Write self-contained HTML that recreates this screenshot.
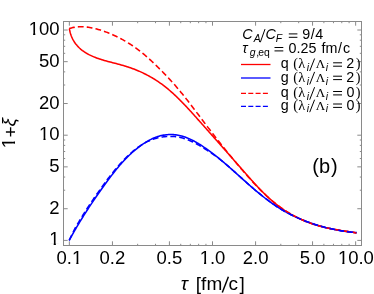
<!DOCTYPE html>
<html><head><meta charset="utf-8"><style>
html,body{margin:0;padding:0;background:#fff;}
body{width:374px;height:294px;overflow:hidden;}
svg{display:block;will-change:transform;font-family:"Liberation Sans",sans-serif;}
</style></head><body>
<svg width="374" height="294" viewBox="0 0 374 294">
<rect width="374" height="294" fill="#fff"/>
<g fill="none" stroke-linecap="butt" stroke-linejoin="round">
<path d="M69.37,28.58 L69.62,29.99 L69.91,31.36 L70.25,32.70 L70.63,33.99 L71.05,35.24 L71.51,36.45 L72.01,37.63 L72.55,38.77 L73.12,39.87 L73.73,40.93 L74.37,41.97 L75.05,42.96 L75.76,43.93 L76.50,44.86 L77.27,45.76 L78.07,46.62 L78.89,47.46 L79.75,48.27 L80.62,49.05 L81.53,49.80 L82.45,50.52 L83.40,51.21 L84.36,51.88 L85.35,52.53 L86.36,53.15 L87.38,53.74 L88.42,54.31 L89.47,54.86 L90.54,55.39 L91.62,55.90 L92.71,56.39 L93.82,56.86 L94.93,57.31 L96.06,57.74 L97.20,58.16 L98.34,58.57 L99.50,58.96 L100.66,59.34 L101.83,59.70 L103.01,60.06 L104.19,60.41 L105.38,60.75 L106.57,61.08 L107.77,61.41 L108.97,61.73 L110.18,62.05 L111.38,62.36 L112.59,62.67 L113.80,62.99 L115.01,63.30 L116.22,63.61 L117.43,63.93 L118.64,64.24 L119.84,64.57 L121.04,64.89 L122.24,65.23 L123.44,65.57 L124.63,65.92 L125.81,66.28 L126.99,66.65 L128.17,67.03 L129.33,67.42 L130.49,67.82 L131.65,68.23 L132.80,68.66 L133.94,69.09 L135.08,69.53 L136.21,69.98 L137.34,70.44 L138.46,70.92 L139.57,71.40 L140.68,71.89 L141.78,72.40 L142.88,72.91 L143.97,73.44 L145.05,73.97 L146.12,74.52 L147.19,75.08 L148.26,75.64 L149.32,76.22 L150.37,76.81 L151.41,77.41 L152.45,78.02 L153.48,78.64 L154.51,79.27 L155.53,79.91 L156.54,80.56 L157.54,81.22 L158.54,81.89 L159.54,82.58 L160.52,83.27 L161.50,83.98 L162.47,84.69 L163.44,85.42 L164.40,86.16 L165.35,86.90 L166.30,87.66 L167.24,88.42 L168.17,89.20 L169.10,89.98 L170.03,90.77 L170.94,91.57 L171.86,92.38 L172.77,93.19 L173.67,94.02 L174.57,94.85 L175.46,95.68 L176.35,96.52 L177.23,97.37 L178.11,98.23 L178.99,99.09 L179.86,99.96 L180.73,100.83 L181.59,101.71 L182.45,102.59 L183.31,103.47 L184.16,104.36 L185.02,105.26 L185.86,106.15 L186.71,107.05 L187.55,107.96 L188.39,108.86 L189.22,109.77 L190.06,110.68 L190.89,111.60 L191.72,112.51 L192.55,113.43 L193.38,114.34 L194.20,115.26 L195.02,116.18 L195.85,117.10 L196.67,118.02 L197.48,118.94 L198.30,119.86 L199.12,120.77 L199.94,121.69 L200.75,122.61 L201.57,123.52 L202.38,124.44 L203.20,125.35 L204.01,126.27 L204.82,127.18 L205.63,128.10 L206.44,129.01 L207.25,129.92 L208.06,130.83 L208.87,131.75 L209.68,132.66 L210.49,133.57 L211.29,134.48 L212.10,135.39 L212.91,136.30 L213.71,137.21 L214.52,138.12 L215.32,139.03 L216.13,139.94 L216.93,140.85 L217.74,141.76 L218.54,142.67 L219.34,143.58 L220.15,144.49 L220.95,145.40 L221.75,146.31 L222.56,147.22 L223.36,148.13 L224.16,149.04 L224.96,149.95 L225.76,150.86 L226.57,151.78 L227.37,152.69 L228.17,153.60 L228.97,154.51 L229.78,155.42 L230.58,156.33 L231.38,157.25 L232.18,158.16 L232.99,159.07 L233.79,159.98 L234.59,160.90 L235.40,161.81 L236.20,162.73 L237.00,163.64 L237.81,164.56 L238.61,165.48 L239.42,166.39 L240.22,167.31 L241.03,168.23 L241.83,169.15 L242.64,170.07 L243.45,170.99 L244.26,171.91 L245.06,172.83 L245.87,173.75 L246.68,174.67 L247.49,175.59 L248.31,176.52 L249.12,177.44 L249.94,178.35 L250.75,179.27 L251.57,180.19 L252.40,181.10 L253.22,182.02 L254.05,182.93 L254.88,183.83 L255.71,184.74 L256.54,185.64 L257.38,186.54 L258.22,187.43 L259.07,188.32 L259.92,189.21 L260.77,190.09 L261.63,190.96 L262.49,191.83 L263.35,192.70 L264.22,193.56 L265.10,194.42 L265.98,195.26 L266.86,196.11 L267.76,196.94 L268.65,197.77 L269.55,198.59 L270.46,199.40 L271.37,200.21 L272.29,201.01 L273.22,201.80 L274.15,202.58 L275.09,203.35 L276.04,204.11 L276.99,204.87 L277.95,205.61 L278.92,206.34 L279.89,207.07 L280.88,207.78 L281.87,208.48 L282.87,209.18 L283.87,209.86 L284.89,210.53 L285.91,211.19 L286.94,211.84 L287.97,212.47 L289.01,213.10 L290.06,213.72 L291.12,214.32 L292.18,214.92 L293.25,215.50 L294.33,216.07 L295.41,216.63 L296.50,217.18 L297.59,217.72 L298.69,218.25 L299.80,218.77 L300.91,219.28 L302.02,219.78 L303.14,220.26 L304.27,220.74 L305.40,221.20 L306.53,221.66 L307.67,222.10 L308.82,222.53 L309.97,222.95 L311.12,223.36 L312.27,223.76 L313.43,224.15 L314.60,224.53 L315.77,224.90 L316.94,225.25 L318.11,225.60 L319.29,225.93 L320.47,226.26 L321.65,226.57 L322.84,226.87 L324.02,227.17 L325.21,227.45 L326.41,227.73 L327.60,228.00 L328.80,228.26 L329.99,228.52 L331.19,228.76 L332.39,229.00 L333.60,229.23 L334.80,229.46 L336.00,229.68 L337.21,229.89 L338.42,230.10 L339.62,230.31 L340.83,230.51 L342.03,230.71 L343.24,230.90 L344.45,231.09 L345.65,231.27 L346.86,231.45 L348.07,231.63 L349.27,231.81 L350.47,231.99 L351.68,232.16 L352.88,232.34 L354.08,232.51 L355.28,232.68 L356.48,232.86" stroke="#ff0000" stroke-width="1.55"/>
<path d="M69.21,240.34 L69.81,239.25 L70.40,238.17 L71.00,237.08 L71.60,236.00 L72.20,234.93 L72.81,233.85 L73.41,232.78 L74.03,231.71 L74.64,230.64 L75.26,229.58 L75.88,228.51 L76.50,227.45 L77.12,226.39 L77.75,225.34 L78.38,224.28 L79.01,223.23 L79.65,222.18 L80.29,221.14 L80.93,220.09 L81.57,219.05 L82.22,218.00 L82.86,216.97 L83.51,215.93 L84.17,214.89 L84.82,213.86 L85.48,212.83 L86.14,211.80 L86.80,210.77 L87.47,209.74 L88.14,208.71 L88.81,207.69 L89.48,206.67 L90.15,205.65 L90.83,204.63 L91.51,203.61 L92.19,202.60 L92.88,201.58 L93.56,200.57 L94.25,199.56 L94.94,198.55 L95.63,197.54 L96.33,196.53 L97.03,195.52 L97.73,194.52 L98.43,193.51 L99.13,192.51 L99.84,191.51 L100.55,190.50 L101.26,189.50 L101.97,188.50 L102.68,187.51 L103.40,186.51 L104.12,185.51 L104.84,184.52 L105.56,183.52 L106.29,182.53 L107.01,181.54 L107.74,180.54 L108.48,179.55 L109.21,178.57 L109.95,177.58 L110.69,176.60 L111.44,175.62 L112.19,174.64 L112.94,173.67 L113.70,172.70 L114.46,171.74 L115.23,170.77 L116.00,169.82 L116.78,168.86 L117.56,167.92 L118.35,166.97 L119.14,166.04 L119.94,165.10 L120.75,164.18 L121.56,163.26 L122.38,162.35 L123.21,161.44 L124.04,160.54 L124.88,159.65 L125.73,158.76 L126.58,157.89 L127.44,157.02 L128.31,156.16 L129.19,155.30 L130.08,154.46 L130.98,153.63 L131.88,152.80 L132.80,151.98 L133.72,151.18 L134.65,150.38 L135.60,149.60 L136.55,148.82 L137.51,148.06 L138.48,147.31 L139.47,146.56 L140.46,145.83 L141.47,145.12 L142.48,144.41 L143.51,143.72 L144.55,143.04 L145.60,142.37 L146.66,141.72 L147.73,141.10 L148.82,140.49 L149.91,139.90 L151.01,139.34 L152.12,138.80 L153.25,138.29 L154.38,137.81 L155.52,137.35 L156.67,136.93 L157.83,136.54 L159.00,136.19 L160.17,135.87 L161.36,135.58 L162.54,135.33 L163.74,135.11 L164.94,134.93 L166.14,134.78 L167.34,134.67 L168.54,134.59 L169.75,134.55 L170.95,134.54 L172.15,134.57 L173.35,134.63 L174.55,134.73 L175.74,134.86 L176.92,135.02 L178.10,135.22 L179.27,135.46 L180.44,135.72 L181.59,136.02 L182.75,136.35 L183.89,136.70 L185.03,137.09 L186.17,137.50 L187.29,137.93 L188.41,138.40 L189.53,138.88 L190.64,139.39 L191.74,139.91 L192.84,140.46 L193.93,141.03 L195.01,141.62 L196.09,142.22 L197.16,142.84 L198.23,143.47 L199.29,144.12 L200.35,144.78 L201.39,145.45 L202.44,146.13 L203.47,146.82 L204.50,147.52 L205.53,148.22 L206.55,148.94 L207.56,149.66 L208.57,150.38 L209.57,151.11 L210.57,151.85 L211.56,152.59 L212.55,153.34 L213.54,154.09 L214.52,154.85 L215.49,155.61 L216.46,156.38 L217.43,157.15 L218.39,157.93 L219.35,158.71 L220.30,159.49 L221.25,160.28 L222.20,161.07 L223.15,161.87 L224.09,162.67 L225.03,163.47 L225.97,164.27 L226.90,165.08 L227.83,165.89 L228.76,166.70 L229.69,167.51 L230.61,168.33 L231.54,169.14 L232.46,169.96 L233.38,170.78 L234.30,171.60 L235.22,172.42 L236.14,173.24 L237.05,174.07 L237.97,174.89 L238.88,175.71 L239.80,176.53 L240.71,177.35 L241.62,178.18 L242.54,179.00 L243.45,179.82 L244.37,180.64 L245.28,181.45 L246.20,182.27 L247.11,183.09 L248.03,183.90 L248.95,184.71 L249.87,185.52 L250.79,186.33 L251.71,187.13 L252.64,187.93 L253.57,188.73 L254.49,189.52 L255.42,190.31 L256.36,191.10 L257.29,191.89 L258.23,192.67 L259.17,193.44 L260.11,194.22 L261.06,194.98 L262.01,195.75 L262.96,196.50 L263.92,197.26 L264.88,198.01 L265.85,198.75 L266.81,199.48 L267.79,200.22 L268.76,200.94 L269.74,201.66 L270.73,202.37 L271.72,203.08 L272.72,203.78 L273.72,204.47 L274.72,205.15 L275.73,205.83 L276.75,206.50 L277.77,207.16 L278.80,207.82 L279.83,208.46 L280.87,209.10 L281.92,209.73 L282.97,210.35 L284.03,210.96 L285.09,211.57 L286.17,212.16 L287.24,212.75 L288.32,213.33 L289.41,213.90 L290.50,214.46 L291.60,215.01 L292.70,215.55 L293.81,216.09 L294.92,216.62 L296.04,217.14 L297.16,217.65 L298.29,218.15 L299.42,218.64 L300.55,219.13 L301.69,219.61 L302.84,220.07 L303.98,220.53 L305.13,220.99 L306.29,221.43 L307.45,221.86 L308.61,222.29 L309.77,222.71 L310.94,223.12 L312.11,223.52 L313.28,223.92 L314.46,224.30 L315.64,224.68 L316.82,225.05 L318.00,225.41 L319.19,225.76 L320.38,226.10 L321.57,226.44 L322.76,226.77 L323.96,227.09 L325.15,227.40 L326.35,227.70 L327.55,228.00 L328.75,228.28 L329.95,228.56 L331.15,228.83 L332.35,229.09 L333.55,229.35 L334.76,229.59 L335.96,229.83 L337.17,230.06 L338.37,230.28 L339.58,230.49 L340.79,230.70 L341.99,230.90 L343.20,231.09 L344.40,231.27 L345.61,231.44 L346.81,231.60 L348.01,231.76 L349.22,231.91 L350.42,232.05 L351.62,232.18 L352.82,232.31 L354.02,232.42 L355.21,232.53 L356.41,232.63" stroke="#0000ff" stroke-width="1.55"/>
<path d="M69.13,28.55 L70.33,28.19 L71.52,27.88 L72.72,27.60 L73.92,27.37 L75.13,27.17 L76.33,27.01 L77.54,26.89 L78.75,26.81 L79.96,26.75 L81.17,26.74 L82.38,26.75 L83.60,26.80 L84.81,26.88 L86.02,26.98 L87.23,27.12 L88.44,27.28 L89.65,27.46 L90.86,27.67 L92.06,27.91 L93.27,28.16 L94.47,28.44 L95.67,28.74 L96.86,29.06 L98.06,29.39 L99.25,29.74 L100.43,30.10 L101.62,30.48 L102.79,30.88 L103.97,31.28 L105.14,31.70 L106.30,32.13 L107.46,32.57 L108.61,33.02 L109.76,33.49 L110.91,33.97 L112.05,34.45 L113.18,34.95 L114.31,35.46 L115.44,35.98 L116.55,36.52 L117.67,37.06 L118.77,37.61 L119.88,38.18 L120.97,38.76 L122.06,39.34 L123.14,39.94 L124.22,40.55 L125.29,41.16 L126.36,41.79 L127.42,42.43 L128.47,43.08 L129.52,43.73 L130.56,44.40 L131.59,45.08 L132.61,45.76 L133.63,46.46 L134.64,47.17 L135.65,47.88 L136.65,48.60 L137.64,49.34 L138.62,50.08 L139.60,50.83 L140.57,51.59 L141.53,52.35 L142.48,53.13 L143.43,53.91 L144.38,54.70 L145.31,55.50 L146.25,56.30 L147.17,57.11 L148.09,57.92 L149.01,58.75 L149.92,59.57 L150.83,60.40 L151.73,61.24 L152.63,62.08 L153.52,62.93 L154.42,63.78 L155.30,64.64 L156.19,65.49 L157.07,66.36 L157.95,67.22 L158.82,68.09 L159.69,68.96 L160.57,69.83 L161.43,70.70 L162.30,71.58 L163.16,72.46 L164.02,73.34 L164.88,74.23 L165.73,75.11 L166.59,76.01 L167.43,76.90 L168.28,77.80 L169.12,78.70 L169.95,79.60 L170.79,80.51 L171.62,81.42 L172.44,82.34 L173.26,83.25 L174.08,84.18 L174.89,85.10 L175.70,86.03 L176.50,86.97 L177.30,87.91 L178.10,88.85 L178.89,89.79 L179.68,90.74 L180.47,91.69 L181.25,92.64 L182.03,93.60 L182.81,94.55 L183.58,95.51 L184.35,96.48 L185.12,97.44 L185.89,98.41 L186.65,99.38 L187.41,100.35 L188.17,101.33 L188.93,102.30 L189.68,103.28 L190.44,104.26 L191.19,105.24 L191.94,106.22 L192.69,107.20 L193.44,108.18 L194.18,109.16 L194.93,110.15 L195.67,111.13 L196.42,112.12 L197.16,113.11 L197.90,114.09 L198.65,115.08 L199.39,116.07 L200.13,117.05 L200.87,118.04 L201.62,119.02 L202.36,120.01 L203.10,120.99 L203.85,121.98 L204.59,122.96 L205.33,123.94 L206.08,124.92 L206.83,125.91 L207.57,126.89 L208.32,127.87 L209.07,128.84 L209.82,129.82 L210.57,130.80 L211.32,131.77 L212.08,132.75 L212.83,133.72 L213.58,134.70 L214.34,135.67 L215.09,136.64 L215.85,137.61 L216.61,138.58 L217.37,139.55 L218.13,140.52 L218.89,141.49 L219.65,142.46 L220.42,143.42 L221.18,144.39 L221.95,145.35 L222.71,146.31 L223.48,147.28 L224.25,148.24 L225.02,149.20 L225.79,150.16 L226.57,151.12 L227.34,152.08 L228.12,153.03 L228.90,153.99 L229.68,154.94 L230.46,155.90 L231.24,156.85 L232.02,157.80 L232.81,158.76 L233.59,159.71 L234.38,160.66 L235.17,161.61 L235.96,162.55 L236.75,163.50 L237.55,164.45 L238.35,165.39 L239.14,166.34 L239.94,167.28 L240.75,168.22 L241.55,169.16 L242.35,170.10 L243.16,171.04 L243.97,171.98 L244.78,172.92 L245.59,173.85 L246.41,174.79 L247.22,175.72 L248.04,176.65 L248.87,177.58 L249.69,178.51 L250.52,179.43 L251.35,180.35 L252.18,181.27 L253.02,182.19 L253.86,183.10 L254.70,184.01 L255.55,184.91 L256.40,185.81 L257.26,186.71 L258.11,187.60 L258.98,188.49 L259.84,189.37 L260.72,190.25 L261.59,191.12 L262.47,191.99 L263.36,192.85 L264.25,193.71 L265.14,194.56 L266.04,195.40 L266.95,196.24 L267.86,197.07 L268.77,197.89 L269.70,198.71 L270.62,199.52 L271.56,200.32 L272.50,201.11 L273.44,201.90 L274.39,202.68 L275.35,203.45 L276.32,204.21 L277.29,204.96 L278.27,205.71 L279.25,206.44 L280.24,207.17 L281.24,207.88 L282.25,208.59 L283.26,209.28 L284.28,209.97 L285.31,210.65 L286.35,211.31 L287.39,211.97 L288.43,212.61 L289.49,213.25 L290.55,213.87 L291.62,214.49 L292.69,215.09 L293.77,215.68 L294.86,216.27 L295.95,216.84 L297.05,217.40 L298.15,217.95 L299.26,218.49 L300.37,219.02 L301.49,219.53 L302.62,220.04 L303.75,220.53 L304.88,221.02 L306.02,221.49 L307.17,221.95 L308.32,222.39 L309.47,222.83 L310.63,223.25 L311.79,223.67 L312.96,224.07 L314.13,224.45 L315.31,224.83 L316.49,225.19 L317.67,225.55 L318.86,225.89 L320.05,226.21 L321.25,226.53 L322.44,226.83 L323.64,227.13 L324.85,227.41 L326.05,227.69 L327.26,227.96 L328.47,228.21 L329.69,228.46 L330.90,228.70 L332.12,228.94 L333.33,229.17 L334.55,229.39 L335.77,229.61 L336.99,229.82 L338.22,230.03 L339.44,230.23 L340.66,230.43 L341.88,230.63 L343.10,230.82 L344.32,231.01 L345.55,231.20 L346.77,231.39 L347.98,231.58 L349.20,231.76 L350.42,231.95 L351.63,232.14 L352.85,232.33 L354.06,232.52 L355.27,232.72 L356.48,232.91" stroke="#ff0000" stroke-width="1.55" stroke-dasharray="5.8 3.1"/>
<path d="M69.21,240.33 L69.81,239.08 L70.40,237.83 L71.00,236.59 L71.60,235.34 L72.20,234.10 L72.81,232.86 L73.41,231.62 L74.03,230.38 L74.64,229.14 L75.26,227.97 L75.88,226.90 L76.50,225.83 L77.12,224.77 L77.75,223.70 L78.38,222.64 L79.01,221.58 L79.65,220.52 L80.29,219.46 L80.93,218.41 L81.57,217.36 L82.22,216.31 L82.86,215.26 L83.51,214.21 L84.17,213.17 L84.82,212.13 L85.48,211.09 L86.14,210.05 L86.80,209.01 L87.47,207.97 L88.14,206.94 L88.81,205.91 L89.48,204.88 L90.15,203.85 L90.83,202.84 L91.51,201.83 L92.19,200.82 L92.88,199.82 L93.56,198.82 L94.25,197.81 L94.94,196.81 L95.63,195.81 L96.33,194.81 L97.03,193.82 L97.73,192.82 L98.43,191.82 L99.13,190.83 L99.84,189.84 L100.55,188.85 L101.26,187.85 L101.97,186.86 L102.68,185.88 L103.40,184.89 L104.12,183.90 L104.84,182.91 L105.56,181.94 L106.29,180.98 L107.01,180.02 L107.74,179.05 L108.48,178.09 L109.21,177.14 L109.95,176.18 L110.69,175.23 L111.44,174.28 L112.19,173.33 L112.94,172.39 L113.70,171.45 L114.46,170.51 L115.23,169.58 L116.00,168.66 L116.78,167.73 L117.56,166.82 L118.35,165.91 L119.14,165.00 L119.94,164.10 L120.75,163.21 L121.56,162.32 L122.38,161.44 L123.21,160.57 L124.04,159.70 L124.88,158.84 L125.73,157.98 L126.58,157.13 L127.44,156.29 L128.31,155.46 L129.19,154.63 L130.08,153.81 L130.98,153.01 L131.88,152.21 L132.80,151.42 L133.72,150.64 L134.65,149.87 L135.60,149.13 L136.55,148.40 L137.51,147.68 L138.48,146.98 L139.47,146.29 L140.46,145.61 L141.47,144.94 L142.48,144.28 L143.51,143.64 L144.55,143.01 L145.60,142.44 L146.66,141.91 L147.73,141.41 L148.82,140.92 L149.91,140.46 L151.01,140.03 L152.12,139.61 L153.25,139.20 L154.38,138.82 L155.52,138.46 L156.67,138.14 L157.83,137.85 L159.00,137.60 L160.17,137.37 L161.36,137.13 L162.54,136.92 L163.74,136.75 L164.94,136.61 L166.14,136.51 L167.34,136.44 L168.54,136.41 L169.75,136.41 L170.95,136.44 L172.15,136.46 L173.35,136.50 L174.55,136.59 L175.74,136.71 L176.92,136.86 L178.10,137.04 L179.27,137.27 L180.44,137.51 L181.59,137.79 L182.75,138.09 L183.89,138.43 L185.03,138.79 L186.17,139.17 L187.29,139.59 L188.41,140.03 L189.53,140.49 L190.64,140.97 L191.74,141.46 L192.84,141.98 L193.93,142.51 L195.01,143.07 L196.09,143.64 L197.16,144.22 L198.23,144.82 L199.29,145.44 L200.35,146.06 L201.39,146.68 L202.44,147.31 L203.47,147.95 L204.50,148.59 L205.53,149.25 L206.55,149.91 L207.56,150.58 L208.57,151.25 L209.57,151.93 L210.57,152.60 L211.56,153.26 L212.55,153.93 L213.54,154.60 L214.52,155.27 L215.49,155.96 L216.46,156.66 L217.43,157.38 L218.39,158.11 L219.35,158.84 L220.30,159.58 L221.25,160.32 L222.20,161.07 L223.15,161.87 L224.09,162.67 L225.03,163.47 L225.97,164.27 L226.90,165.08 L227.83,165.89 L228.76,166.70 L229.69,167.51 L230.61,168.33 L231.54,169.14 L232.46,169.96 L233.38,170.78 L234.30,171.60 L235.22,172.42 L236.14,173.24 L237.05,174.07 L237.97,174.89 L238.88,175.71 L239.80,176.53 L240.71,177.35 L241.62,178.18 L242.54,179.00 L243.45,179.82 L244.37,180.64 L245.28,181.45 L246.20,182.27 L247.11,183.09 L248.03,183.90 L248.95,184.71 L249.87,185.52 L250.79,186.33 L251.71,187.13 L252.64,187.93 L253.57,188.73 L254.49,189.52 L255.42,190.31 L256.36,191.10 L257.29,191.89 L258.23,192.67 L259.17,193.44 L260.11,194.22 L261.06,194.98 L262.01,195.75 L262.96,196.50 L263.92,197.26 L264.88,198.01 L265.85,198.75 L266.81,199.48 L267.79,200.22 L268.76,200.94 L269.74,201.66 L270.73,202.37 L271.72,203.08 L272.72,203.78 L273.72,204.47 L274.72,205.15 L275.73,205.83 L276.75,206.50 L277.77,207.16 L278.80,207.82 L279.83,208.46 L280.87,209.10 L281.92,209.73 L282.97,210.35 L284.03,210.96 L285.09,211.57 L286.17,212.16 L287.24,212.75 L288.32,213.33 L289.41,213.90 L290.50,214.46 L291.60,215.01 L292.70,215.55 L293.81,216.09 L294.92,216.62 L296.04,217.14 L297.16,217.65 L298.29,218.15 L299.42,218.64 L300.55,219.13 L301.69,219.61 L302.84,220.07 L303.98,220.53 L305.13,220.99 L306.29,221.43 L307.45,221.86 L308.61,222.29 L309.77,222.71 L310.94,223.12 L312.11,223.52 L313.28,223.92 L314.46,224.30 L315.64,224.68 L316.82,225.05 L318.00,225.41 L319.19,225.76 L320.38,226.10 L321.57,226.44 L322.76,226.77 L323.96,227.09 L325.15,227.40 L326.35,227.70 L327.55,228.00 L328.75,228.28 L329.95,228.56 L331.15,228.83 L332.35,229.09 L333.55,229.35 L334.76,229.59 L335.96,229.83 L337.17,230.06 L338.37,230.28 L339.58,230.49 L340.79,230.70 L341.99,230.90 L343.20,231.09 L344.40,231.27 L345.61,231.44 L346.81,231.60 L348.01,231.76 L349.22,231.91 L350.42,232.05 L351.62,232.18 L352.82,232.31 L354.02,232.42 L355.21,232.53 L356.41,232.63" stroke="#0000ff" stroke-width="1.55" stroke-dasharray="5.8 3.1"/>
</g>
<rect x="63.5" y="21.5" width="298.0" height="224.0" fill="none" stroke="#8a8a8a" stroke-width="1"/>
<line x1="69.35" y1="245.50" x2="69.35" y2="241.30" stroke="#8a8a8a" stroke-width="1"/>
<line x1="69.35" y1="21.50" x2="69.35" y2="25.70" stroke="#8a8a8a" stroke-width="1"/>
<line x1="112.44" y1="245.50" x2="112.44" y2="241.30" stroke="#8a8a8a" stroke-width="1"/>
<line x1="112.44" y1="21.50" x2="112.44" y2="25.70" stroke="#8a8a8a" stroke-width="1"/>
<line x1="137.65" y1="245.50" x2="137.65" y2="243.80" stroke="#8a8a8a" stroke-width="1"/>
<line x1="137.65" y1="21.50" x2="137.65" y2="23.20" stroke="#8a8a8a" stroke-width="1"/>
<line x1="155.53" y1="245.50" x2="155.53" y2="243.80" stroke="#8a8a8a" stroke-width="1"/>
<line x1="155.53" y1="21.50" x2="155.53" y2="23.20" stroke="#8a8a8a" stroke-width="1"/>
<line x1="169.41" y1="245.50" x2="169.41" y2="241.30" stroke="#8a8a8a" stroke-width="1"/>
<line x1="169.41" y1="21.50" x2="169.41" y2="25.70" stroke="#8a8a8a" stroke-width="1"/>
<line x1="180.74" y1="245.50" x2="180.74" y2="243.80" stroke="#8a8a8a" stroke-width="1"/>
<line x1="180.74" y1="21.50" x2="180.74" y2="23.20" stroke="#8a8a8a" stroke-width="1"/>
<line x1="190.33" y1="245.50" x2="190.33" y2="243.80" stroke="#8a8a8a" stroke-width="1"/>
<line x1="190.33" y1="21.50" x2="190.33" y2="23.20" stroke="#8a8a8a" stroke-width="1"/>
<line x1="198.63" y1="245.50" x2="198.63" y2="243.80" stroke="#8a8a8a" stroke-width="1"/>
<line x1="198.63" y1="21.50" x2="198.63" y2="23.20" stroke="#8a8a8a" stroke-width="1"/>
<line x1="205.95" y1="245.50" x2="205.95" y2="243.80" stroke="#8a8a8a" stroke-width="1"/>
<line x1="205.95" y1="21.50" x2="205.95" y2="23.20" stroke="#8a8a8a" stroke-width="1"/>
<line x1="212.50" y1="245.50" x2="212.50" y2="241.30" stroke="#8a8a8a" stroke-width="1"/>
<line x1="212.50" y1="21.50" x2="212.50" y2="25.70" stroke="#8a8a8a" stroke-width="1"/>
<line x1="255.59" y1="245.50" x2="255.59" y2="241.30" stroke="#8a8a8a" stroke-width="1"/>
<line x1="255.59" y1="21.50" x2="255.59" y2="25.70" stroke="#8a8a8a" stroke-width="1"/>
<line x1="280.80" y1="245.50" x2="280.80" y2="243.80" stroke="#8a8a8a" stroke-width="1"/>
<line x1="280.80" y1="21.50" x2="280.80" y2="23.20" stroke="#8a8a8a" stroke-width="1"/>
<line x1="298.68" y1="245.50" x2="298.68" y2="243.80" stroke="#8a8a8a" stroke-width="1"/>
<line x1="298.68" y1="21.50" x2="298.68" y2="23.20" stroke="#8a8a8a" stroke-width="1"/>
<line x1="312.56" y1="245.50" x2="312.56" y2="241.30" stroke="#8a8a8a" stroke-width="1"/>
<line x1="312.56" y1="21.50" x2="312.56" y2="25.70" stroke="#8a8a8a" stroke-width="1"/>
<line x1="323.89" y1="245.50" x2="323.89" y2="243.80" stroke="#8a8a8a" stroke-width="1"/>
<line x1="323.89" y1="21.50" x2="323.89" y2="23.20" stroke="#8a8a8a" stroke-width="1"/>
<line x1="333.48" y1="245.50" x2="333.48" y2="243.80" stroke="#8a8a8a" stroke-width="1"/>
<line x1="333.48" y1="21.50" x2="333.48" y2="23.20" stroke="#8a8a8a" stroke-width="1"/>
<line x1="341.78" y1="245.50" x2="341.78" y2="243.80" stroke="#8a8a8a" stroke-width="1"/>
<line x1="341.78" y1="21.50" x2="341.78" y2="23.20" stroke="#8a8a8a" stroke-width="1"/>
<line x1="349.10" y1="245.50" x2="349.10" y2="243.80" stroke="#8a8a8a" stroke-width="1"/>
<line x1="349.10" y1="21.50" x2="349.10" y2="23.20" stroke="#8a8a8a" stroke-width="1"/>
<line x1="355.65" y1="245.50" x2="355.65" y2="241.30" stroke="#8a8a8a" stroke-width="1"/>
<line x1="355.65" y1="21.50" x2="355.65" y2="25.70" stroke="#8a8a8a" stroke-width="1"/>
<line x1="63.50" y1="240.40" x2="67.70" y2="240.40" stroke="#8a8a8a" stroke-width="1"/>
<line x1="361.50" y1="240.40" x2="357.30" y2="240.40" stroke="#8a8a8a" stroke-width="1"/>
<line x1="63.50" y1="208.73" x2="67.70" y2="208.73" stroke="#8a8a8a" stroke-width="1"/>
<line x1="361.50" y1="208.73" x2="357.30" y2="208.73" stroke="#8a8a8a" stroke-width="1"/>
<line x1="63.50" y1="190.21" x2="65.20" y2="190.21" stroke="#8a8a8a" stroke-width="1"/>
<line x1="361.50" y1="190.21" x2="359.80" y2="190.21" stroke="#8a8a8a" stroke-width="1"/>
<line x1="63.50" y1="177.06" x2="65.20" y2="177.06" stroke="#8a8a8a" stroke-width="1"/>
<line x1="361.50" y1="177.06" x2="359.80" y2="177.06" stroke="#8a8a8a" stroke-width="1"/>
<line x1="63.50" y1="166.87" x2="67.70" y2="166.87" stroke="#8a8a8a" stroke-width="1"/>
<line x1="361.50" y1="166.87" x2="357.30" y2="166.87" stroke="#8a8a8a" stroke-width="1"/>
<line x1="63.50" y1="158.54" x2="65.20" y2="158.54" stroke="#8a8a8a" stroke-width="1"/>
<line x1="361.50" y1="158.54" x2="359.80" y2="158.54" stroke="#8a8a8a" stroke-width="1"/>
<line x1="63.50" y1="151.50" x2="65.20" y2="151.50" stroke="#8a8a8a" stroke-width="1"/>
<line x1="361.50" y1="151.50" x2="359.80" y2="151.50" stroke="#8a8a8a" stroke-width="1"/>
<line x1="63.50" y1="145.39" x2="65.20" y2="145.39" stroke="#8a8a8a" stroke-width="1"/>
<line x1="361.50" y1="145.39" x2="359.80" y2="145.39" stroke="#8a8a8a" stroke-width="1"/>
<line x1="63.50" y1="140.01" x2="65.20" y2="140.01" stroke="#8a8a8a" stroke-width="1"/>
<line x1="361.50" y1="140.01" x2="359.80" y2="140.01" stroke="#8a8a8a" stroke-width="1"/>
<line x1="63.50" y1="135.20" x2="67.70" y2="135.20" stroke="#8a8a8a" stroke-width="1"/>
<line x1="361.50" y1="135.20" x2="357.30" y2="135.20" stroke="#8a8a8a" stroke-width="1"/>
<line x1="63.50" y1="103.53" x2="67.70" y2="103.53" stroke="#8a8a8a" stroke-width="1"/>
<line x1="361.50" y1="103.53" x2="357.30" y2="103.53" stroke="#8a8a8a" stroke-width="1"/>
<line x1="63.50" y1="85.01" x2="65.20" y2="85.01" stroke="#8a8a8a" stroke-width="1"/>
<line x1="361.50" y1="85.01" x2="359.80" y2="85.01" stroke="#8a8a8a" stroke-width="1"/>
<line x1="63.50" y1="71.86" x2="65.20" y2="71.86" stroke="#8a8a8a" stroke-width="1"/>
<line x1="361.50" y1="71.86" x2="359.80" y2="71.86" stroke="#8a8a8a" stroke-width="1"/>
<line x1="63.50" y1="61.67" x2="67.70" y2="61.67" stroke="#8a8a8a" stroke-width="1"/>
<line x1="361.50" y1="61.67" x2="357.30" y2="61.67" stroke="#8a8a8a" stroke-width="1"/>
<line x1="63.50" y1="53.34" x2="65.20" y2="53.34" stroke="#8a8a8a" stroke-width="1"/>
<line x1="361.50" y1="53.34" x2="359.80" y2="53.34" stroke="#8a8a8a" stroke-width="1"/>
<line x1="63.50" y1="46.30" x2="65.20" y2="46.30" stroke="#8a8a8a" stroke-width="1"/>
<line x1="361.50" y1="46.30" x2="359.80" y2="46.30" stroke="#8a8a8a" stroke-width="1"/>
<line x1="63.50" y1="40.19" x2="65.20" y2="40.19" stroke="#8a8a8a" stroke-width="1"/>
<line x1="361.50" y1="40.19" x2="359.80" y2="40.19" stroke="#8a8a8a" stroke-width="1"/>
<line x1="63.50" y1="34.81" x2="65.20" y2="34.81" stroke="#8a8a8a" stroke-width="1"/>
<line x1="361.50" y1="34.81" x2="359.80" y2="34.81" stroke="#8a8a8a" stroke-width="1"/>
<line x1="63.50" y1="30.00" x2="67.70" y2="30.00" stroke="#8a8a8a" stroke-width="1"/>
<line x1="361.50" y1="30.00" x2="357.30" y2="30.00" stroke="#8a8a8a" stroke-width="1"/>
<g fill="#000">
<text x="69.35" y="264.3" font-size="18.5" text-anchor="middle">0.1</text>
<text x="112.44" y="264.3" font-size="18.5" text-anchor="middle">0.2</text>
<text x="169.41" y="264.3" font-size="18.5" text-anchor="middle">0.5</text>
<text x="212.50" y="264.3" font-size="18.5" text-anchor="middle">1.0</text>
<text x="255.59" y="264.3" font-size="18.5" text-anchor="middle">2.0</text>
<text x="312.56" y="264.3" font-size="18.5" text-anchor="middle">5.0</text>
<text x="355.9" y="264.3" font-size="18.5" text-anchor="middle">10.0</text>
<text x="59.6" y="245.40" font-size="18.5" text-anchor="end">1</text>
<text x="59.6" y="213.73" font-size="18.5" text-anchor="end">2</text>
<text x="59.6" y="171.87" font-size="18.5" text-anchor="end">5</text>
<text x="59.6" y="140.20" font-size="18.5" text-anchor="end">10</text>
<text x="59.6" y="108.53" font-size="18.5" text-anchor="end">20</text>
<text x="59.6" y="66.67" font-size="18.5" text-anchor="end">50</text>
<text x="59.6" y="35.00" font-size="18.5" text-anchor="end">100</text>
<text x="180.80" y="290.40" font-size="19" font-style="italic">τ</text>
<text x="195.85" y="290.40" font-size="19">[fm</text>
<line x1="222.30" y1="292.60" x2="228.40" y2="276.80" stroke="#000" stroke-width="1.45"/>
<text x="228.39" y="290.40" font-size="19">c</text>
<text x="239.45" y="290.40" font-size="19">]</text>
<text transform="translate(14.9,148.2) rotate(-90)" font-size="19">1<tspan dy="1.7">+</tspan><tspan dy="-1.7" font-style="italic">ξ</tspan></text>
<text x="312.26" y="172.80" font-size="20">(b</text>
<text x="330.88" y="172.80" font-size="20">)</text>
<text x="242.31" y="39.40" font-size="14.3" font-style="italic">C</text>
<text x="253.81" y="42.40" font-size="10.4" font-style="italic">A</text>
<line x1="260.30" y1="42.30" x2="265.00" y2="29.10" stroke="#000" stroke-width="1.0"/>
<text x="265.51" y="39.40" font-size="14.3" font-style="italic">C</text>
<text x="275.68" y="42.40" font-size="10.4" font-style="italic">F</text>
<rect x="288.80" y="33.40" width="8.60" height="1.0" fill="#000"/><rect x="288.80" y="36.80" width="8.60" height="1.0" fill="#000"/>
<text x="302.23" y="39.40" font-size="14.3">9</text>
<text x="310.70" y="39.40" font-size="14.3">/</text>
<text x="315.17" y="39.40" font-size="14.3">4</text>
<text x="242.28" y="53.00" font-size="14.3" font-style="italic">τ</text>
<text x="249.78" y="56.00" font-size="10.4" font-style="italic">g</text>
<text x="256.17" y="56.00" font-size="10.4">,</text>
<text x="258.26" y="56.00" font-size="10.4">eq</text>
<rect x="274.50" y="47.00" width="8.80" height="1.0" fill="#000"/><rect x="274.50" y="50.40" width="8.80" height="1.0" fill="#000"/>
<text x="288.54" y="53.00" font-size="14.3">0.25</text>
<text x="321.50" y="53.00" font-size="14.3">fm</text>
<text x="338.10" y="53.00" font-size="14.3">/</text>
<text x="343.09" y="53.00" font-size="14.3">c</text>
<text x="280.70" y="68.30" font-size="14.3">q</text>
<text x="293.37" y="68.30" font-size="14.3" font-family='"Liberation Serif",serif'>(</text>
<text x="298.32" y="68.30" font-size="14.3" font-family='"Liberation Serif",serif'>λ</text>
<text x="306.83" y="71.10" font-size="10.4" font-style="italic">i</text>
<line x1="309.70" y1="71.00" x2="314.60" y2="58.50" stroke="#000" stroke-width="1.0"/>
<text x="315.77" y="68.30" font-size="13" font-family='"Liberation Serif",serif'>Λ</text>
<text x="325.83" y="71.10" font-size="10.4" font-style="italic">i</text>
<rect x="333.10" y="62.30" width="8.90" height="1.0" fill="#000"/><rect x="333.10" y="65.70" width="8.90" height="1.0" fill="#000"/>
<text x="346.28" y="68.30" font-size="14.3">2</text>
<text x="355.64" y="68.30" font-size="14.3" font-family='"Liberation Serif",serif'>)</text>
<text x="280.70" y="81.70" font-size="14.3">g</text>
<text x="293.37" y="81.70" font-size="14.3" font-family='"Liberation Serif",serif'>(</text>
<text x="298.32" y="81.70" font-size="14.3" font-family='"Liberation Serif",serif'>λ</text>
<text x="306.83" y="84.50" font-size="10.4" font-style="italic">i</text>
<line x1="309.70" y1="84.40" x2="314.60" y2="71.90" stroke="#000" stroke-width="1.0"/>
<text x="315.77" y="81.70" font-size="13" font-family='"Liberation Serif",serif'>Λ</text>
<text x="325.83" y="84.50" font-size="10.4" font-style="italic">i</text>
<rect x="333.10" y="75.70" width="8.90" height="1.0" fill="#000"/><rect x="333.10" y="79.10" width="8.90" height="1.0" fill="#000"/>
<text x="346.28" y="81.70" font-size="14.3">2</text>
<text x="355.64" y="81.70" font-size="14.3" font-family='"Liberation Serif",serif'>)</text>
<text x="280.70" y="97.00" font-size="14.3">q</text>
<text x="293.37" y="97.00" font-size="14.3" font-family='"Liberation Serif",serif'>(</text>
<text x="298.32" y="97.00" font-size="14.3" font-family='"Liberation Serif",serif'>λ</text>
<text x="306.83" y="99.80" font-size="10.4" font-style="italic">i</text>
<line x1="309.70" y1="99.70" x2="314.60" y2="87.20" stroke="#000" stroke-width="1.0"/>
<text x="315.77" y="97.00" font-size="13" font-family='"Liberation Serif",serif'>Λ</text>
<text x="325.83" y="99.80" font-size="10.4" font-style="italic">i</text>
<rect x="333.10" y="91.00" width="8.90" height="1.0" fill="#000"/><rect x="333.10" y="94.40" width="8.90" height="1.0" fill="#000"/>
<text x="346.44" y="97.00" font-size="14.3">0</text>
<text x="355.64" y="97.00" font-size="14.3" font-family='"Liberation Serif",serif'>)</text>
<text x="280.70" y="109.50" font-size="14.3">g</text>
<text x="293.37" y="109.50" font-size="14.3" font-family='"Liberation Serif",serif'>(</text>
<text x="298.32" y="109.50" font-size="14.3" font-family='"Liberation Serif",serif'>λ</text>
<text x="306.83" y="112.30" font-size="10.4" font-style="italic">i</text>
<line x1="309.70" y1="112.20" x2="314.60" y2="99.70" stroke="#000" stroke-width="1.0"/>
<text x="315.77" y="109.50" font-size="13" font-family='"Liberation Serif",serif'>Λ</text>
<text x="325.83" y="112.30" font-size="10.4" font-style="italic">i</text>
<rect x="333.10" y="103.50" width="8.90" height="1.0" fill="#000"/><rect x="333.10" y="106.90" width="8.90" height="1.0" fill="#000"/>
<text x="346.44" y="109.50" font-size="14.3">0</text>
<text x="355.64" y="109.50" font-size="14.3" font-family='"Liberation Serif",serif'>)</text>
</g>
<rect x="72.29" y="261.98" width="4.03" height="3.02" fill="#fff"/>
<rect x="78.46" y="261.98" width="3.89" height="3.02" fill="#fff"/>
<rect x="200.01" y="261.98" width="4.03" height="3.02" fill="#fff"/>
<rect x="206.18" y="261.98" width="3.89" height="3.02" fill="#fff"/>
<rect x="338.27" y="261.98" width="4.03" height="3.02" fill="#fff"/>
<rect x="344.44" y="261.98" width="3.89" height="3.02" fill="#fff"/>
<rect x="49.68" y="243.08" width="4.03" height="3.02" fill="#fff"/>
<rect x="55.85" y="243.08" width="3.89" height="3.02" fill="#fff"/>
<rect x="39.40" y="137.88" width="4.03" height="3.02" fill="#fff"/>
<rect x="45.56" y="137.88" width="3.89" height="3.02" fill="#fff"/>
<rect x="29.11" y="32.68" width="4.03" height="3.02" fill="#fff"/>
<rect x="35.28" y="32.68" width="3.89" height="3.02" fill="#fff"/>
<g transform="translate(14.9,148.2) rotate(-90)"><rect x="0.38" y="-2.35" width="4.15" height="3.05" fill="#fff"/><rect x="6.71" y="-2.35" width="3.99" height="3.05" fill="#fff"/></g>
<g fill="none" stroke-width="1.3">
<line x1="241" y1="64.5" x2="270.5" y2="64.5" stroke="#ff0000"/>
<line x1="241" y1="78" x2="270.5" y2="78" stroke="#0000ff"/>
<line x1="241" y1="93.3" x2="268" y2="93.3" stroke="#ff0000" stroke-dasharray="5 2.3"/>
<line x1="241" y1="106.3" x2="268" y2="106.3" stroke="#0000ff" stroke-dasharray="5 2.3"/>
</g>
</svg>
</body></html>
